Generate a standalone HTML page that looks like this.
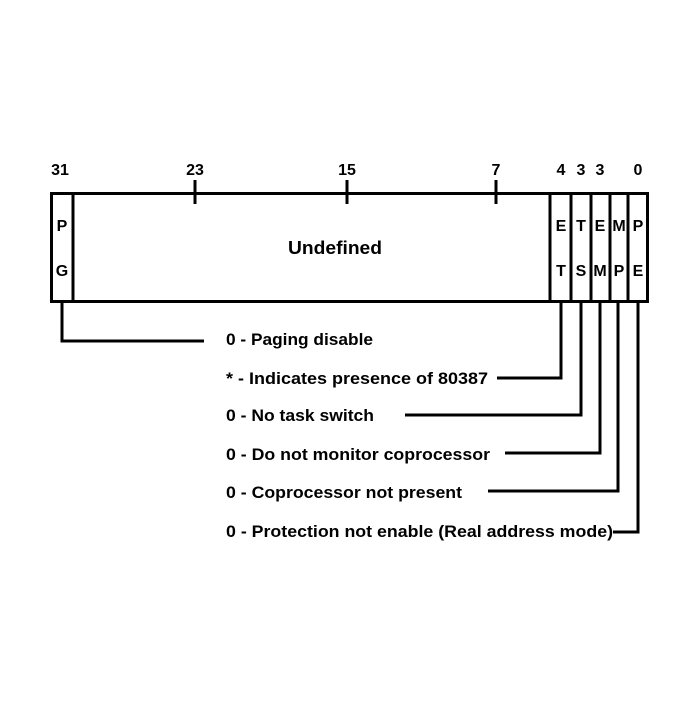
<!DOCTYPE html>
<html><head><style>
body{margin:0;background:#fff;}
svg text{font-family:"Liberation Sans",sans-serif;font-weight:bold;fill:#000;}
</style></head><body>
<svg width="700" height="700" viewBox="0 0 700 700" xmlns="http://www.w3.org/2000/svg">
<g stroke="#000" stroke-width="3" fill="none">
<rect x="51.5" y="193.5" width="596" height="108"/>
<line x1="73" y1="193" x2="73" y2="302"/>
<line x1="550" y1="193" x2="550" y2="302"/>
<line x1="571" y1="193" x2="571" y2="302"/>
<line x1="591" y1="193" x2="591" y2="302"/>
<line x1="610" y1="193" x2="610" y2="302"/>
<line x1="628" y1="193" x2="628" y2="302"/>
<line x1="195" y1="180" x2="195" y2="204"/>
<line x1="347" y1="180" x2="347" y2="204"/>
<line x1="496" y1="180" x2="496" y2="204"/>
<polyline points="62,302 62,341 204,341"/>
<polyline points="561,302 561,378 497,378"/>
<polyline points="581,302 581,415 405,415"/>
<polyline points="600,302 600,453 505,453"/>
<polyline points="618,302 618,491 488,491"/>
<polyline points="638,302 638,532 613,532"/>
</g>
<g font-size="16" text-anchor="middle">
<text x="60" y="175">31</text>
<text x="195" y="175">23</text>
<text x="347" y="175">15</text>
<text x="496" y="175">7</text>
<text x="561" y="175">4</text>
<text x="581" y="175">3</text>
<text x="600" y="175">3</text>
<text x="638" y="175">0</text>
<text x="62" y="231">P</text><text x="62" y="276">G</text>
<text x="561" y="231">E</text><text x="561" y="276">T</text>
<text x="581" y="231">T</text><text x="581" y="276">S</text>
<text x="600" y="231">E</text><text x="600" y="276">M</text>
<text x="619" y="231">M</text><text x="619" y="276">P</text>
<text x="638" y="231">P</text><text x="638" y="276">E</text>
</g>
<text x="288" y="254" font-size="18" textLength="94" lengthAdjust="spacingAndGlyphs">Undefined</text>
<g font-size="17" lengthAdjust="spacingAndGlyphs">
<text x="226" y="345" textLength="147" lengthAdjust="spacingAndGlyphs">0 - Paging disable</text>
<text x="226" y="384" textLength="262" lengthAdjust="spacingAndGlyphs">* - Indicates presence of 80387</text>
<text x="226" y="421" textLength="148" lengthAdjust="spacingAndGlyphs">0 - No task switch</text>
<text x="226" y="460" textLength="264" lengthAdjust="spacingAndGlyphs">0 - Do not monitor coprocessor</text>
<text x="226" y="498" textLength="236" lengthAdjust="spacingAndGlyphs">0 - Coprocessor not present</text>
<text x="226" y="537" textLength="387" lengthAdjust="spacingAndGlyphs">0 - Protection not enable (Real address mode)</text>
</g>
</svg>
</body></html>
